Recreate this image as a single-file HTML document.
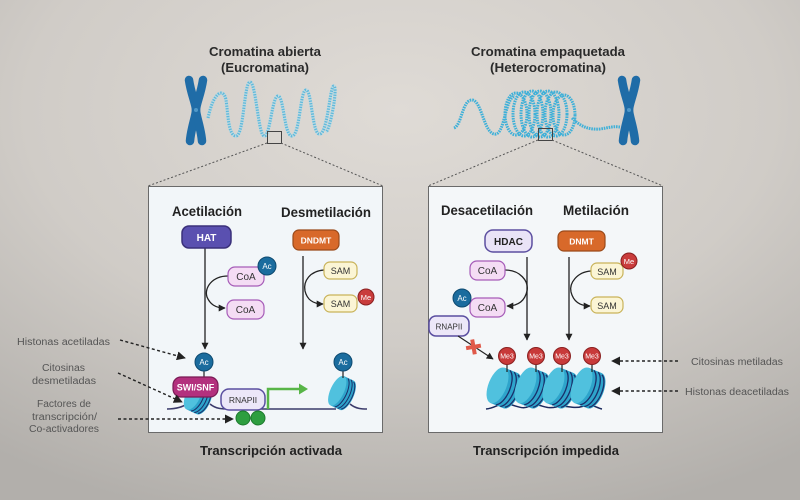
<!DOCTYPE html>
<html><head><meta charset="utf-8"><style>
html,body{margin:0;padding:0;width:800px;height:500px;overflow:hidden;}
svg{display:block;}
</style></head><body>
<svg width="800" height="500" viewBox="0 0 800 500" xmlns="http://www.w3.org/2000/svg" font-family="'Liberation Sans', sans-serif">
<defs>
<radialGradient id="bg" cx="0.5" cy="0.22" r="0.85">
<stop offset="0" stop-color="#dfdbd6"/>
<stop offset="0.55" stop-color="#d0ccc7"/>
<stop offset="1" stop-color="#b2afab"/>
</radialGradient>
<marker id="ah" viewBox="0 0 10 10" refX="9" refY="5" markerWidth="7" markerHeight="7" markerUnits="userSpaceOnUse" orient="auto">
<path d="M0,0 L10,5 L0,10 Z" fill="#222"/>
</marker>
<marker id="ahb" viewBox="0 0 10 10" refX="9" refY="5" markerWidth="9" markerHeight="9" markerUnits="userSpaceOnUse" orient="auto">
<path d="M0,0 L10,5 L0,10 Z" fill="#222"/>
</marker>
<g id="nuc">
<path d="M-7,-19 L7,-19 A9,19 0 0 1 7,19 L-7,19 Z" fill="#2ea4cb"/>
<ellipse cx="-7" cy="0" rx="9" ry="19" fill="#50c1de"/>
<path d="M-1,-18.5 A9 19 0 0 1 -1,18.5" stroke="#1a2f6a" stroke-width="1.3" fill="none"/>
<path d="M3.5,-18.5 A9 19 0 0 1 3.5,18.5" stroke="#1a2f6a" stroke-width="1.3" fill="none"/>
<path d="M8,-17.5 A8.5 18 0 0 1 8,17.5" stroke="#1a2f6a" stroke-width="1.3" fill="none"/>
</g>
</defs>

<rect width="800" height="500" fill="url(#bg)"/>

<g font-weight="bold" font-size="13" fill="#2a2a2a" text-anchor="middle">
<text x="265" y="56" textLength="112" lengthAdjust="spacingAndGlyphs">Cromatina abierta</text>
<text x="265" y="72" textLength="88" lengthAdjust="spacingAndGlyphs">(Eucromatina)</text>
<text x="548" y="56" textLength="154" lengthAdjust="spacingAndGlyphs">Cromatina empaquetada</text>
<text x="548" y="72" textLength="116" lengthAdjust="spacingAndGlyphs">(Heterocromatina)</text>
</g>

<g stroke="#1f6ca7" stroke-width="8.5" stroke-linecap="round" fill="none">
<path d="M189,80 C191,94 196,104 196,110 C196,116 191,128 190,141"/>
<path d="M203,80 C201,94 196,104 196,110 C196,116 201,128 202,141"/>
</g>
<circle cx="196" cy="110" r="2" fill="#4f98c9"/>
<path d="M208,118 C214,90 224,88 226,100 S228,136 236,136 S244,82 250,82 S258,134 264,136 S272,96 278,96 S284,136 292,136 S300,90 306,90 S312,136 320,134 S330,84 334,86 S330,130 326,132" fill="none" stroke="#a9dcec" stroke-width="3.5" opacity="0.6"/>
<path d="M208,118 C214,90 224,88 226,100 S228,136 236,136 S244,82 250,82 S258,134 264,136 S272,96 278,96 S284,136 292,136 S300,90 306,90 S312,136 320,134 S330,84 334,86 S330,130 326,132" fill="none" stroke="#5fb8da" stroke-width="3" stroke-dasharray="1.3 1.3"/>
<rect x="267.5" y="131.5" width="14" height="12" fill="none" stroke="#444" stroke-width="1"/>
<g stroke="#555" stroke-width="1" stroke-dasharray="2 2">
<line x1="267" y1="143" x2="148" y2="186"/>
<line x1="281" y1="143" x2="383" y2="186"/>
</g>

<g fill="none" stroke="#3fb0d8" stroke-width="3" stroke-dasharray="1.6 0.9">
<path d="M454,128 C462,125 462,100 472,100 C482,100 484,136 496,134 C505,132 505,98 515,96"/>
<ellipse cx="516" cy="114" rx="11" ry="21"/>
<ellipse cx="524" cy="114" rx="11" ry="22"/>
<ellipse cx="532" cy="114" rx="11" ry="23"/>
<ellipse cx="540" cy="114" rx="11" ry="23"/>
<ellipse cx="548" cy="114" rx="11" ry="23"/>
<ellipse cx="556" cy="114" rx="11" ry="22"/>
<ellipse cx="564" cy="115" rx="11" ry="20"/>
<path d="M572,118 C580,126 588,130 600,129 C608,128 612,126 620,127"/>
</g>
<g stroke="#1f6ca7" stroke-width="8.5" stroke-linecap="round" fill="none">
<path d="M622,80 C624,94 629,104 629,110 C629,116 624,128 623,141"/>
<path d="M636,80 C634,94 629,104 629,110 C629,116 634,128 635,141"/>
</g>
<circle cx="629" cy="110" r="2" fill="#4f98c9"/>
<rect x="538.5" y="128.5" width="14" height="12" fill="none" stroke="#444" stroke-width="1"/>
<g stroke="#555" stroke-width="1" stroke-dasharray="2 2">
<line x1="538" y1="140" x2="428" y2="186"/>
<line x1="552" y1="140" x2="663" y2="186"/>
</g>

<rect x="148.5" y="186.5" width="234" height="246" fill="#f2f6f9" stroke="#6a6a6a" stroke-width="1"/>
<rect x="428.5" y="186.5" width="234" height="246" fill="#f4f7f9" stroke="#6a6a6a" stroke-width="1"/>

<g font-weight="bold" font-size="13.5" fill="#222" text-anchor="middle">
<text x="207" y="216" textLength="70" lengthAdjust="spacingAndGlyphs">Acetilación</text>
<text x="326" y="217" textLength="90" lengthAdjust="spacingAndGlyphs">Desmetilación</text>
<text x="487" y="215" textLength="92" lengthAdjust="spacingAndGlyphs">Desacetilación</text>
<text x="596" y="215" textLength="66" lengthAdjust="spacingAndGlyphs">Metilación</text>
<text x="271" y="455" font-size="13" textLength="142" lengthAdjust="spacingAndGlyphs">Transcripción activada</text>
<text x="546" y="455" font-size="13" textLength="146" lengthAdjust="spacingAndGlyphs">Transcripción impedida</text>
</g>

<g stroke="#222" stroke-width="1.3" fill="none">
<line x1="205" y1="248" x2="205" y2="349" marker-end="url(#ah)"/>
<line x1="303" y1="256" x2="303" y2="349" marker-end="url(#ah)"/>
<line x1="527" y1="257" x2="527" y2="340" marker-end="url(#ah)"/>
<line x1="569" y1="257" x2="569" y2="340" marker-end="url(#ah)"/>
<path d="M228,276 C212,276 204,288 207,297 C210,304 215,308 225,308" marker-end="url(#ah)"/>
<path d="M324,270 C310,271 303,281 305,291 C307,299 312,304 323,304" marker-end="url(#ah)"/>
<path d="M505,270 C520,270 529,281 527,291 C525,300 519,306 507,306" marker-end="url(#ah)"/>
<path d="M591,271 C577,272 569,283 571,292 C573,300 578,306 590,306" marker-end="url(#ah)"/>
</g>

<rect x="182" y="226" width="49" height="22" rx="7" fill="#5a50b0" stroke="#3a307a" stroke-width="1.5"/>
<text x="206.5" y="241" font-size="10" font-weight="bold" fill="#fff" text-anchor="middle">HAT</text>
<rect x="293" y="230" width="46" height="20" rx="6" fill="#d8692a" stroke="#9a4a1a" stroke-width="1.2"/>
<text x="316" y="243.5" font-size="8.5" font-weight="bold" fill="#fff" text-anchor="middle">DNDMT</text>
<rect x="485" y="230" width="47" height="22" rx="8" fill="#e9e3f7" stroke="#5c4fa0" stroke-width="1.5"/>
<text x="508.5" y="245" font-size="10" font-weight="bold" fill="#222" text-anchor="middle">HDAC</text>
<rect x="558" y="231" width="47" height="20" rx="6" fill="#d8692a" stroke="#9a4a1a" stroke-width="1.2"/>
<text x="581.5" y="244.5" font-size="8.5" font-weight="bold" fill="#fff" text-anchor="middle">DNMT</text>

<g stroke-width="1.2">
<rect x="228" y="267" width="36" height="19" rx="7" fill="#f4dcf4" stroke="#a65cb8"/>
<rect x="227" y="300" width="37" height="19" rx="7" fill="#f4dcf4" stroke="#a65cb8"/>
<rect x="470" y="261" width="35" height="19" rx="7" fill="#f4dcf4" stroke="#a65cb8"/>
<rect x="470" y="298" width="35" height="19" rx="7" fill="#f4dcf4" stroke="#a65cb8"/>
<rect x="324" y="262" width="33" height="17" rx="6" fill="#fbf5d5" stroke="#c9b35a"/>
<rect x="324" y="295" width="33" height="17" rx="6" fill="#fbf5d5" stroke="#c9b35a"/>
<rect x="591" y="263" width="32" height="16" rx="6" fill="#fbf5d5" stroke="#c9b35a"/>
<rect x="591" y="297" width="32" height="16" rx="6" fill="#fbf5d5" stroke="#c9b35a"/>
</g>
<g font-size="10" fill="#333" text-anchor="middle">
<text x="246" y="280">CoA</text>
<text x="245.5" y="313">CoA</text>
<text x="487.5" y="274">CoA</text>
<text x="487.5" y="311">CoA</text>
<text x="340.5" y="274" font-size="9">SAM</text>
<text x="340.5" y="307" font-size="9">SAM</text>
<text x="607" y="275" font-size="9">SAM</text>
<text x="607" y="309" font-size="9">SAM</text>
</g>
<g stroke-width="1">
<circle cx="267" cy="266" r="9" fill="#1b6c9e" stroke="#0e4a70"/>
<circle cx="462" cy="298" r="9" fill="#1b6c9e" stroke="#0e4a70"/>
<circle cx="366" cy="297" r="8" fill="#c93c3c" stroke="#8a2020"/>
<circle cx="629" cy="261" r="8" fill="#c93c3c" stroke="#8a2020"/>
</g>
<g font-size="8" fill="#fff" text-anchor="middle">
<text x="267" y="269">Ac</text>
<text x="462" y="301">Ac</text>
<text x="366" y="300" font-size="7.5">Me</text>
<text x="629" y="264" font-size="7.5">Me</text>
</g>

<path d="M167,409 C180,409 185,405 192,402 M210,404 C216,409 222,409 230,409 L336,409 M350,404 C356,409 362,409 367,409" fill="none" stroke="#3b3b6b" stroke-width="1.6"/>
<use href="#nuc" transform="translate(198,398) rotate(25) scale(0.8)"/>
<line x1="204" y1="370" x2="204" y2="379" stroke="#222" stroke-width="1.2"/>
<circle cx="204" cy="362" r="9" fill="#1b6c9e" stroke="#0e4a70"/>
<text x="204" y="365" font-size="8" fill="#fff" text-anchor="middle">Ac</text>
<rect x="173" y="377" width="45" height="20" rx="8" fill="#b3307e" stroke="#7a1a55" stroke-width="1.2"/>
<text x="195.5" y="390.5" font-size="9" font-weight="bold" fill="#fff" text-anchor="middle">SWI/SNF</text>
<rect x="221" y="389" width="44" height="21" rx="8" fill="#ece7f8" stroke="#5a4ea0" stroke-width="1.5"/>
<text x="243" y="403" font-size="8.5" fill="#333" text-anchor="middle">RNAPII</text>
<circle cx="243" cy="418" r="7" fill="#2e9e40" stroke="#1e7a2e"/>
<circle cx="258" cy="418" r="7" fill="#2e9e40" stroke="#1e7a2e"/>
<path d="M268,409 V389 H300" fill="none" stroke="#58b548" stroke-width="2.5"/>
<path d="M299,383.5 L308,389 L299,394.5 Z" fill="#58b548"/>
<use href="#nuc" transform="translate(342,393) rotate(25) scale(0.75,0.85)"/>
<line x1="343" y1="370" x2="343" y2="378" stroke="#222" stroke-width="1.2"/>
<circle cx="343" cy="362" r="9" fill="#1b6c9e" stroke="#0e4a70"/>
<text x="343" y="365" font-size="8" fill="#fff" text-anchor="middle">Ac</text>

<rect x="429" y="316" width="40" height="20" rx="7" fill="#ece7f8" stroke="#5a4ea0" stroke-width="1.5"/>
<text x="449" y="329.5" font-size="8" fill="#333" text-anchor="middle">RNAPII</text>
<line x1="458" y1="336" x2="493" y2="359" stroke="#222" stroke-width="1.1" marker-end="url(#ah)"/>
<rect x="466" y="345" width="15" height="4" fill="#e05a4a" transform="rotate(-10 473 347)"/>
<rect x="471.5" y="339.5" width="4" height="15" fill="#e05a4a" transform="rotate(-10 473 347)"/>
<path d="M486,409 C496,408 500,402 508,404 C518,406 522,410 530,406 C540,402 544,410 556,407 C566,404 572,410 584,406 C592,403 596,408 602,409" fill="none" stroke="#1b2a5e" stroke-width="1.5"/>
<use href="#nuc" transform="translate(504,388) rotate(22)"/>
<use href="#nuc" transform="translate(532,388) rotate(22)"/>
<use href="#nuc" transform="translate(560,388) rotate(22)"/>
<use href="#nuc" transform="translate(588,388) rotate(22)"/>
<g stroke="#222" stroke-width="1.2">
<line x1="507" y1="364" x2="507" y2="372"/>
<line x1="536" y1="364" x2="536" y2="372"/>
<line x1="562" y1="364" x2="562" y2="372"/>
<line x1="592" y1="364" x2="592" y2="372"/>
</g>
<g fill="#c83a3a" stroke="#8a2020" stroke-width="1">
<circle cx="507" cy="356" r="8.5"/>
<circle cx="536" cy="356" r="8.5"/>
<circle cx="562" cy="356" r="8.5"/>
<circle cx="592" cy="356" r="8.5"/>
</g>
<g font-size="7" fill="#fff" text-anchor="middle">
<text x="507" y="358.5">Me3</text>
<text x="536" y="358.5">Me3</text>
<text x="562" y="358.5">Me3</text>
<text x="592" y="358.5">Me3</text>
</g>

<g stroke="#222" stroke-width="1.4" stroke-dasharray="3 2.5" fill="none">
<line x1="120" y1="340" x2="185" y2="358" marker-end="url(#ahb)"/>
<line x1="118" y1="373" x2="182" y2="402" marker-end="url(#ahb)"/>
<line x1="118" y1="419" x2="233" y2="419" marker-end="url(#ahb)"/>
<line x1="678" y1="361" x2="612" y2="361" marker-end="url(#ahb)"/>
<line x1="678" y1="391" x2="612" y2="391" marker-end="url(#ahb)"/>
</g>

<g font-size="10" fill="#555" text-anchor="middle">
<text x="63.5" y="345" textLength="93" lengthAdjust="spacingAndGlyphs">Histonas acetiladas</text>
<text x="63.5" y="371" textLength="43" lengthAdjust="spacingAndGlyphs">Citosinas</text>
<text x="64" y="384" textLength="64" lengthAdjust="spacingAndGlyphs">desmetiladas</text>
<text x="64" y="407" textLength="54" lengthAdjust="spacingAndGlyphs">Factores de</text>
<text x="64.5" y="420" textLength="65" lengthAdjust="spacingAndGlyphs">transcripción/</text>
<text x="64" y="432" textLength="70" lengthAdjust="spacingAndGlyphs">Co-activadores</text>
<text x="737" y="365" textLength="92" lengthAdjust="spacingAndGlyphs">Citosinas metiladas</text>
<text x="737" y="395" textLength="104" lengthAdjust="spacingAndGlyphs">Histonas deacetiladas</text>
</g>
</svg>
</body></html>
